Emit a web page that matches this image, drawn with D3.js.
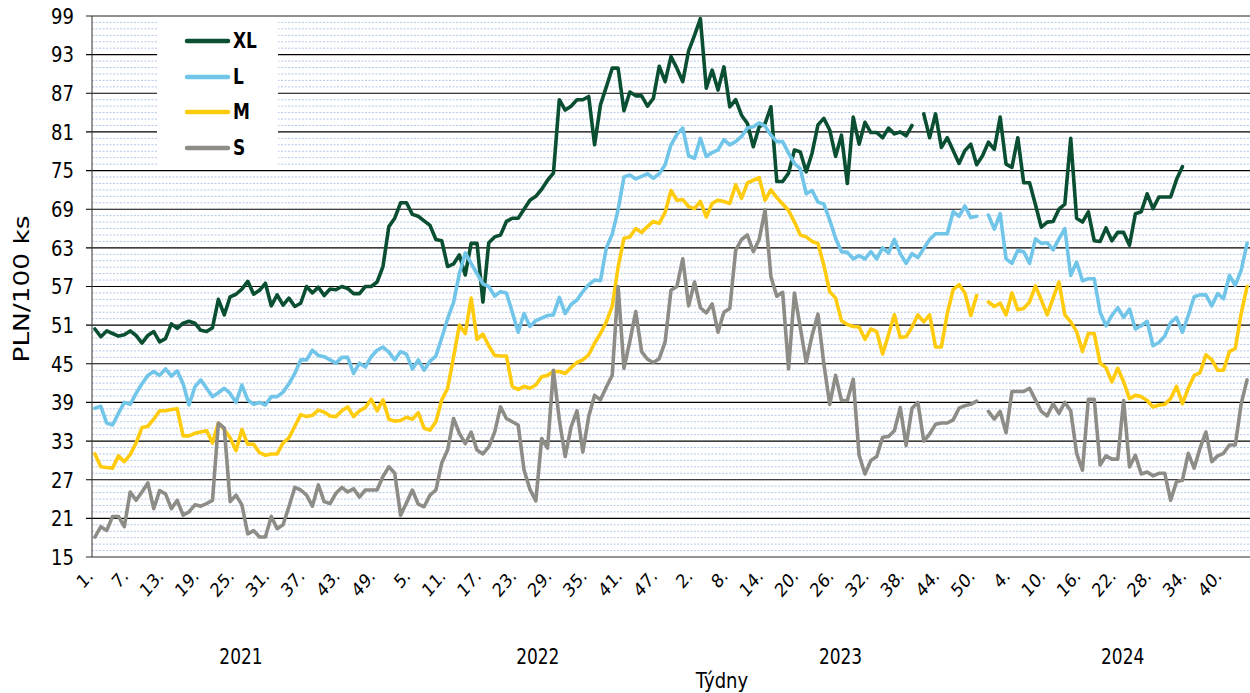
<!DOCTYPE html>
<meta charset="utf-8">
<style>
body { margin: 0; background: #fff; }
svg text { font-family: "DejaVu Sans", Verdana, sans-serif; fill: #000; }
.minor line { stroke: #b4c7ea; stroke-width: 1; stroke-dasharray: 2 1.5; }
.major line { stroke: #000; stroke-width: 1.15; }
.series { fill: none; stroke-width: 3.6; stroke-linejoin: round; stroke-linecap: round; }
</style>
<body>
<div id="chart"></div>
<script src="https://d3js.org/d3.v7.min.js"></script>
<script>
// categories: weeks per year on the x axis
var years = ["2021", "2022", "2023", "2024"];
var weeksInYear = [50, 51, 52, 44];

var yTickValues = [15, 21, 27, 33, 39, 45, 51, 57, 63, 69, 75, 81, 87, 93, 99];

var seriesNames = ["XL", "L", "M", "S"];
var seriesColors = ["#0a4f32", "#71c5e8", "#ffcb0e", "#8e8c86"];

// PLN/100 ks, one value per week, null = no quote
var xlValues = [
  // 2021
  50.4, 49.2, 50.1, 49.7, 49.3, 49.5, 50.1, 49.4, 48.2, 49.4, 50.0, 48.4, 48.9, 51.2, 50.5, 51.3, 51.6, 51.3, 50.2, 50.0,
  50.6, 55.0, 52.6, 55.4, 55.8, 56.6, 57.8, 55.8, 56.4, 57.5, 54.0, 55.7, 54.1, 55.2, 53.9, 54.4, 57.0, 56.0, 56.9, 55.6,
  56.6, 56.5, 57.0, 56.7, 55.9, 55.9, 57.0, 57.0, 57.7, 60.1,
  // 2022
  66.3, 67.6, 70.0, 70.0, 68.2, 67.9, 67.2, 66.5, 64.3, 64.1, 60.1, 60.5, 61.9, 58.8, 63.7, 63.7, 54.6, 63.8, 64.7, 65.0,
  67.1, 67.6, 67.6, 69.0, 70.4, 71.0, 72.1, 73.5, 74.6, 86.0, 84.4, 85.0, 86.0, 86.0, 86.5, 79.0, 85.2, 88.0, 90.9, 90.9,
  84.3, 87.2, 86.6, 86.6, 85.0, 86.2, 91.2, 88.8, 92.7, 90.9, 88.8,
  // 2023
  93.6, 96.0, 98.6, 87.8, 90.6, 87.5, 91.1, 84.9, 86.0, 83.6, 82.3, 78.7, 81.8, 82.3, 84.9, 73.3, 73.3, 74.6, 78.2, 77.9,
  74.8, 77.7, 82.1, 83.1, 81.3, 77.2, 80.5, 73.0, 83.3, 79.1, 82.5, 80.9, 80.9, 80.1, 81.6, 80.7, 81.0, 80.4, 82.0, null,
  83.8, 80.1, 83.8, 78.6, 80.1, 78.1, 76.1, 78.1, 79.1, 75.9, 77.3, 79.4,
  // 2024
  78.3, 83.3, 76.0, 75.5, 80.1, 73.1, 73.1, 69.7, 66.2, 67.0, 67.1, 69.0, 69.8, 80.0, 67.6, 67.0, 68.6, 64.1, 64.0, 66.1,
  64.1, 65.4, 65.4, 63.4, 68.3, 68.6, 71.4, 69.1, 70.9, 70.9, 70.9, 73.6, 75.6, null, null, null, null, null, null, null,
  null, null, null, null
];

var lValues = [
  // 2021
  38.1, 38.4, 35.8, 35.5, 37.3, 39.0, 38.7, 40.4, 41.9, 43.2, 43.8, 43.2, 44.2, 43.1, 43.9, 41.9, 38.6, 41.4, 42.5, 41.2,
  39.9, 40.5, 41.2, 40.4, 39.0, 41.7, 39.4, 38.7, 39.0, 38.6, 39.9, 39.9, 40.6, 41.9, 43.5, 45.6, 45.6, 47.1, 46.3, 46.1,
  45.6, 45.1, 46.0, 46.0, 43.5, 45.1, 44.5, 46.1, 47.1, 47.6,
  // 2022
  46.8, 45.6, 46.9, 46.5, 44.2, 45.6, 44.0, 45.4, 46.2, 49.0, 52.0, 54.5, 59.0, 62.2, 60.6, 59.0, 57.4, 57.0, 55.5, 56.2,
  56.0, 53.0, 49.9, 52.8, 50.8, 51.7, 52.1, 52.5, 52.6, 55.3, 52.8, 54.2, 54.9, 56.2, 57.3, 58.0, 57.9, 63.0, 65.1, 68.9,
  74.0, 74.3, 73.7, 74.1, 74.5, 73.8, 74.5, 75.9, 79.0, 80.6, 81.6,
  // 2023
  77.3, 76.9, 80.0, 77.2, 77.8, 78.2, 79.8, 79.0, 79.5, 80.3, 81.6, 81.8, 82.4, 81.9, 80.5, 79.5, 79.5, 77.7, 76.1, 75.3,
  71.4, 71.9, 70.1, 69.8, 67.3, 64.5, 62.4, 62.3, 61.3, 61.8, 61.3, 62.4, 61.3, 63.0, 62.2, 64.3, 62.1, 60.6, 62.1, 61.5,
  62.9, 64.3, 65.2, 65.2, 65.2, 68.6, 67.9, 69.5, 67.7, 67.9, null, 68.1,
  // 2024
  65.9, 68.3, 61.3, 60.6, 62.6, 62.4, 60.6, 64.4, 63.7, 63.8, 62.7, 64.4, 66.0, 58.7, 60.8, 57.9, 58.2, 58.2, 53.0, 50.9,
  52.5, 53.7, 52.2, 53.5, 50.4, 50.9, 51.6, 47.8, 48.3, 49.3, 51.4, 52.2, 49.9, 52.5, 55.4, 55.7, 55.7, 54.0, 55.9, 55.1,
  58.7, 57.2, 59.5, 63.7
];

var mValues = [
  // 2021
  31.0, 29.0, 28.9, 28.8, 30.7, 29.8, 30.9, 32.7, 35.1, 35.3, 36.4, 37.7, 37.7, 37.9, 38.0, 33.8, 33.8, 34.2, 34.4, 34.6,
  32.7, 35.8, 34.8, 33.5, 31.5, 34.8, 32.5, 32.5, 31.2, 30.8, 31.0, 31.0, 32.7, 33.5, 35.3, 37.1, 36.8, 37.0, 37.8, 37.5,
  36.9, 36.8, 37.7, 38.3, 36.8, 37.7, 38.2, 39.5, 37.7, 39.4,
  // 2022
  36.4, 36.1, 36.2, 36.7, 36.4, 37.4, 35.0, 34.7, 36.0, 39.4, 41.2, 46.0, 51.0, 49.7, 55.2, 48.8, 49.6, 47.8, 46.3, 46.2,
  46.2, 41.5, 41.0, 41.5, 41.2, 41.7, 43.0, 43.2, 43.8, 43.8, 43.5, 44.4, 45.2, 45.6, 46.4, 48.2, 49.7, 51.5, 53.9, 60.0,
  64.5, 64.7, 66.0, 65.4, 66.3, 67.1, 66.8, 68.5, 71.9, 70.4, 70.5,
  // 2023
  69.4, 69.1, 70.2, 67.8, 69.9, 70.4, 70.2, 69.9, 72.8, 70.7, 73.1, 73.5, 73.9, 70.4, 72.0, 70.8, 69.8, 68.8, 67.0, 65.0,
  64.7, 64.0, 63.7, 60.3, 56.2, 55.2, 51.7, 51.1, 50.8, 50.7, 48.8, 50.4, 50.0, 46.5, 49.5, 52.6, 49.1, 49.2, 50.7, 52.6,
  51.5, 52.6, 47.6, 47.6, 52.8, 56.5, 57.3, 56.0, 52.5, 55.6, null, 54.6,
  // 2024
  53.9, 54.4, 52.6, 56.0, 53.4, 53.6, 54.6, 57.1, 54.9, 52.6, 55.2, 57.7, 52.6, 51.5, 50.0, 46.9, 49.7, 49.7, 45.1, 44.4,
  42.2, 44.3, 42.2, 39.6, 40.1, 39.9, 39.3, 38.3, 38.6, 38.7, 39.6, 41.5, 38.8, 41.2, 43.2, 43.6, 46.4, 45.6, 44.0, 44.0,
  46.9, 47.4, 52.8, 57.0
];

var sValues = [
  // 2021
  18.1, 19.7, 19.1, 21.3, 21.3, 19.7, 25.1, 23.8, 25.1, 26.5, 22.5, 25.3, 24.8, 22.5, 23.8, 21.5, 22.0, 23.1, 22.9, 23.3,
  23.8, 35.8, 35.0, 23.6, 24.6, 23.1, 18.6, 19.1, 18.1, 18.1, 21.3, 19.4, 20.0, 22.8, 25.8, 25.4, 24.6, 22.9, 26.2, 23.6,
  23.3, 24.9, 25.8, 25.1, 25.6, 24.3, 25.4, 25.4, 25.4, 27.5,
  // 2022
  29.0, 28.0, 21.5, 23.4, 25.4, 23.2, 22.8, 24.6, 25.4, 29.6, 31.6, 36.5, 34.2, 32.6, 34.4, 31.6, 31.0, 32.1, 34.4, 38.3,
  36.5, 36.0, 35.5, 28.5, 25.5, 23.7, 33.4, 31.9, 44.0, 36.3, 30.6, 35.2, 37.7, 31.3, 36.8, 40.1, 39.4, 41.4, 43.2, 57.0,
  44.3, 48.5, 53.1, 46.9, 45.7, 45.2, 45.8, 48.4, 56.4, 57.0, 61.3,
  // 2023
  54.0, 57.7, 53.7, 52.9, 54.3, 49.9, 53.0, 53.6, 62.6, 64.3, 65.0, 62.4, 64.3, 68.9, 58.5, 55.5, 56.1, 44.2, 56.0, 50.6,
  45.2, 49.4, 52.7, 45.0, 38.7, 43.2, 39.3, 39.3, 42.6, 30.8, 27.9, 30.0, 30.6, 33.6, 33.7, 34.6, 38.2, 32.3, 38.1, 39.0,
  33.0, 34.1, 35.6, 35.8, 35.8, 36.3, 38.1, 38.5, 38.7, 39.2, null, 37.6,
  // 2024
  36.4, 37.6, 34.3, 40.7, 40.7, 40.7, 41.2, 39.4, 37.6, 36.9, 38.8, 37.3, 39.0, 37.7, 31.1, 28.5, 39.5, 39.5, 29.3, 30.7,
  30.2, 30.2, 39.3, 29.0, 30.8, 27.9, 28.2, 27.6, 28.0, 28.0, 23.8, 26.7, 26.9, 31.1, 28.8, 31.9, 34.4, 29.8, 30.7, 31.1,
  32.4, 32.4, 38.8, 42.5
];

var allSeries = [xlValues, lValues, mValues, sValues];

// category list built from the week counts
var categories = [];
years.forEach(function(yr, k) {
  for (var w = 1; w <= weeksInYear[k]; w++) categories.push({ year: yr, week: w, idx: categories.length });
});

var width = 1250, height = 693;
var plotLeft = 92, plotRight = 1250, plotTop = 16, plotBottom = 557;
var stretch = 1.2; // text in the original is drawn a bit taller than wide

var svg = d3.select("#chart").append("svg")
  .attr("width", width)
  .attr("height", height);

var x = d3.scalePoint()
  .domain(categories.map(function(d) { return d.idx; }))
  .range([plotLeft, plotRight])
  .padding(0.5);

var y = d3.scaleLinear()
  .domain([15, 99])
  .range([plotBottom, plotTop]);

function place(px, py, extra) {
  return "translate(" + px + "," + py + ") scale(1," + stretch + ")" + (extra || "");
}

// minor grid every 1 unit
var minorVals = d3.range(16, 99).filter(function(v) { return (v - 15) % 6 != 0; });
svg.append("g").attr("class", "minor")
  .selectAll("line").data(minorVals).enter().append("line")
  .attr("x1", plotLeft).attr("x2", plotRight)
  .attr("y1", function(d) { return y(d); })
  .attr("y2", function(d) { return y(d); });

// major grid + small ticks on the left
svg.append("g").attr("class", "major")
  .selectAll("line").data(yTickValues.filter(function(v) { return v != 15 && v != 99; })).enter().append("line")
  .attr("x1", plotLeft - 6).attr("x2", plotRight)
  .attr("y1", function(d) { return y(d); })
  .attr("y2", function(d) { return y(d); });

// top and bottom lines are grey and a bit heavier
svg.append("line").attr("x1", plotLeft - 6).attr("x2", plotRight).attr("y1", y(99)).attr("y2", y(99))
  .attr("stroke", "#6b6b6b").attr("stroke-width", 1.6);
svg.append("line").attr("x1", plotLeft - 6).attr("x2", plotRight).attr("y1", y(15)).attr("y2", y(15))
  .attr("stroke", "#707070").attr("stroke-width", 1.6);
svg.append("line").attr("x1", plotLeft).attr("x2", plotLeft).attr("y1", y(99)).attr("y2", y(15))
  .attr("stroke", "#333").attr("stroke-width", 1);

// y tick labels
svg.append("g").selectAll("text").data(yTickValues).enter().append("text")
  .attr("transform", function(d) { return place(74, y(d)); })
  .attr("dy", "0.36em")
  .attr("text-anchor", "end")
  .style("font-size", "18px")
  .text(function(d) { return d; });

// y title
svg.append("text")
  .attr("transform", place(21, 289, " rotate(-90)"))
  .attr("text-anchor", "middle")
  .attr("dy", "0.36em")
  .style("font-size", "22px")
  .text("PLN/100 ks");

// lines
var line = d3.line()
  .defined(function(d) { return d != null; })
  .x(function(d, i) { return x(i); })
  .y(function(d) { return y(d); });

svg.append("g").selectAll("path").data(allSeries).enter().append("path")
  .attr("class", "series")
  .attr("stroke", function(d, i) { return seriesColors[i]; })
  .attr("d", line);

// week labels, every 6th category
svg.append("g").selectAll("text")
  .data(categories.filter(function(d) { return d.idx % 6 == 0; }))
  .enter().append("text")
  .attr("transform", function(d) { return place(x(d.idx) - 5, 572, " rotate(-45)"); })
  .attr("text-anchor", "end")
  .attr("dy", "0.36em")
  .style("font-size", "16px")
  .text(function(d) { return d.week + "."; });

// year labels centred under their weeks
years.forEach(function(yr) {
  var cs = categories.filter(function(d) { return d.year == yr; });
  var cx = (x(cs[0].idx) + x(cs[cs.length - 1].idx)) / 2;
  svg.append("text")
    .attr("transform", place(cx + 2, 657))
    .attr("dy", "0.36em")
    .attr("text-anchor", "middle")
    .style("font-size", "17px")
    .text(yr);
});

svg.append("text")
  .attr("transform", place(722, 680))
  .attr("dy", "0.36em")
  .attr("text-anchor", "middle")
  .style("font-size", "18px")
  .text("Týdny");

// legend
var lg = svg.append("g");
lg.append("rect")
  .attr("x", 157).attr("y", 18)
  .attr("width", 121).attr("height", 147)
  .attr("fill", "#fff");
var rowY = [41, 77, 112, 148];
seriesNames.forEach(function(name, i) {
  lg.append("line")
    .attr("x1", 187).attr("x2", 228)
    .attr("y1", rowY[i]).attr("y2", rowY[i])
    .attr("stroke", seriesColors[i])
    .attr("stroke-width", 4.5)
    .attr("stroke-linecap", "round");
  lg.append("text")
    .attr("transform", place(233, rowY[i]))
    .attr("dy", "0.36em")
    .style("font-size", "17px")
    .style("font-weight", "bold")
    .text(name);
});
</script>
</body>
